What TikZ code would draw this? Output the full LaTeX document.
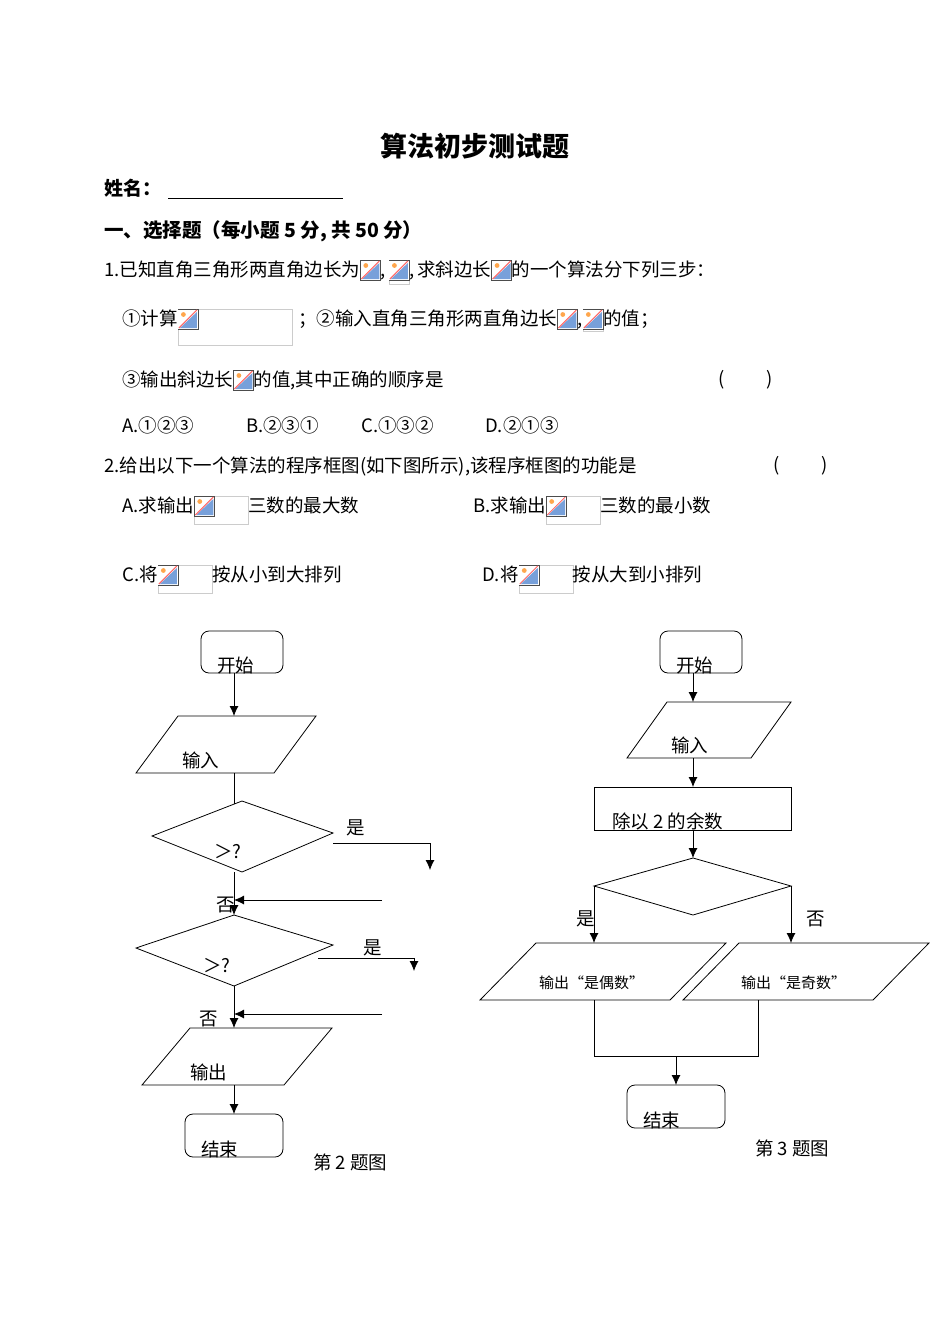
\documentclass[tikz,border=0pt]{standalone}
\usepackage{fontspec}
\setmainfont{Noto Sans CJK SC}
\newcommand\ico[2][0]{\tikz[baseline=4pt,x=1pt,y=1pt]{\draw[black!20](0,-#2) rectangle ({20+#1},20);\draw[black!70](0,0) rectangle (20,20);\fill[white](0.5,0.5) rectangle (19.5,19.5);\fill[cyan!50!blue!55](2,1)--(19,1)--(19,17)--cycle;\draw[red!60,line width=1pt](1,1)--(19,19);\fill[orange!70](5.5,14.5) circle(2.4);}}
\tikzset{txt/.style={anchor=west,inner sep=0pt,font=\fontsize{18.5}{20}\selectfont},
 ln/.style={line width=0.8pt},
 arr/.style={ln,-{Latex[length=10pt,width=9pt]}},
 box/.style={ln,rounded corners=8pt}}
\usetikzlibrary{arrows.meta}
\begin{document}
\begin{tikzpicture}[x=1pt,y=-1pt]
\useasboundingbox[fill=white] (0,0) rectangle (950,1342);
\node[font=\fontsize{27}{29}\selectfont\bfseries,inner sep=0pt] (title) at (475,146) {算法初步测试题};
\node[txt,font=\fontsize{19}{21}\selectfont\bfseries] (name) at (104,188) {姓名：};
\draw[ln] (168,198) -- (343,198);
\node[txt,font=\fontsize{19.5}{21}\selectfont\bfseries] (sec) at (104,231) {一、选择题（每小题 5 分, 共 50 分）};
\node[txt] (q1) at (104,272) {1.已知直角三角形两直角边长为\ico{0},\,\ico{4},\,求斜边长\ico{0}的一个算法分下列三步：};
\node[txt] (s1) at (122,327) {①计算\ico[94]{16}\hspace{6pt}；②输入直角三角形两直角边长\ico{0},\ico{2}的值；};
\node[txt] (s3) at (122,380) {③输出斜边长\ico{0}的值,其中正确的顺序是};
\node[txt] (p1) at (718,380) {(\hspace{42pt})};
\node[txt] (oA) at (122,425) {A.①②③};
\node[txt] (oB) at (246,425) {B.②③①};
\node[txt] (oC) at (361,425) {C.①③②};
\node[txt] (oD) at (485,425) {D.②①③};
\node[txt] (q2) at (104,466) {2.给出以下一个算法的程序框图(如下图所示),该程序框图的功能是};
\node[txt] (p2) at (773,466) {(\hspace{42pt})};
\node[txt] (a2) at (122,510) {A.求输出\ico[34]{8}三数的最大数};
\node[txt] (b2) at (473,510) {B.求输出\ico[34]{8}三数的最小数};
\node[txt] (c2) at (122,579) {C.将\ico[34]{8}按从小到大排列};
\node[txt] (d2) at (482,579) {D.将\ico[34]{8}按从大到小排列};
% flowchart 1
\draw[box] (201,631) rectangle (283,673);
\node[txt] (st1) at (217,665) {开始};
\coordinate (st1b) at (234,673);
\draw[ln] (178,716)--(316,716)--(274,773)--(136,773)--cycle;
\node[txt] (in1) at (182,760) {输入};
\coordinate (in1t) at (234,716); \coordinate (in1b) at (234,773);
\draw[arr] (st1b) -- (in1t);
\draw[ln] (152,836)--(242,801)--(333,833)--(242,872)--cycle;
\node[txt] (c1) at (214,852) {＞?};
\coordinate (d1t) at (234,804);
\draw[ln] (in1b) -- (d1t);
\node[txt] (y1) at (346,828) {是};
\coordinate (y1a) at (333,843); \coordinate (y1b) at (430,843); \coordinate (y1c) at (430,870);
\draw[arr] (y1a) -- (y1b) -- (y1c);
\coordinate (d1b) at (234,872); \coordinate (d2t) at (234,915);
\draw[arr] (d1b) -- (d2t);
\coordinate (r1) at (382,900); \coordinate (r1e) at (234,900);
\draw[arr] (r1) -- (r1e);
\node[txt] (n1) at (216,905) {否};
\draw[ln] (136,948)--(234,915)--(333,945)--(234,986)--cycle;
\node[txt] (c2b) at (203,966) {＞?};
\node[txt] (y2) at (363,948) {是};
\coordinate (y2a) at (318,958); \coordinate (y2b) at (414,958); \coordinate (y2c) at (414,971);
\draw[arr] (y2a) -- (y2b) -- (y2c);
\coordinate (d2b) at (234,986); \coordinate (out1t) at (234,1028);
\draw[arr] (d2b) -- (out1t);
\coordinate (r2) at (382,1014); \coordinate (r2e) at (234,1014);
\draw[arr] (r2) -- (r2e);
\node[txt] (n2) at (199,1019) {否};
\draw[ln] (190,1028)--(332,1028)--(284,1085)--(142,1085)--cycle;
\node[txt] (out1) at (190,1072) {输出};
\coordinate (out1b) at (234,1085); \coordinate (end1t) at (234,1114);
\draw[arr] (out1b) -- (end1t);
\draw[box] (185,1114) rectangle (283,1157);
\node[txt] (end1) at (201,1149) {结束};
\node[txt] (cap2) at (313,1162) {第 2 题图};
% flowchart 2
\draw[box] (660,631) rectangle (742,673);
\node[txt] (st2) at (676,665) {开始};
\coordinate (st2b) at (693,673); \coordinate (in2t) at (693,702);
\draw[arr] (st2b) -- (in2t);
\draw[ln] (667,702)--(791,702)--(751,758)--(627,758)--cycle;
\node[txt] (in2) at (671,745) {输入};
\coordinate (in2b) at (693,758); \coordinate (rm) at (693,787);
\draw[arr] (in2b) -- (rm);
\draw[ln] (594,787) rectangle (791,830);
\node[txt] (rem) at (612,821) {除以 2 的余数};
\coordinate (rmb) at (693,830); \coordinate (d3t) at (693,858);
\draw[arr] (rmb) -- (d3t);
\draw[ln] (693,858)--(791,886)--(693,915)--(594,886)--cycle;
\coordinate (d3l) at (594,886); \coordinate (d3r) at (791,886);
\coordinate (evt) at (594,943); \coordinate (odt) at (791,943);
\draw[arr] (d3l) -- (evt);
\draw[arr] (d3r) -- (odt);
\node[txt] (yes3) at (576,919) {是};
\node[txt] (no3) at (806,919) {否};
\draw[ln] (536,943)--(726,943)--(670,1000)--(480,1000)--cycle;
\draw[ln] (739,943)--(929,943)--(873,1000)--(683,1000)--cycle;
\node[txt,font=\fontsize{15}{17}\selectfont] (ev) at (539,983) {输出“是偶数”};
\node[txt,font=\fontsize{15}{17}\selectfont] (od) at (741,983) {输出“是奇数”};
\coordinate (evb) at (594,1000); \coordinate (odb) at (758,1000);
\coordinate (m) at (676,1056); \coordinate (end2t) at (676,1085);
\draw[ln] (evb) -- (594,1056) -- (758,1056) -- (odb);
\draw[arr] (m) -- (end2t);
\draw[box] (627,1085) rectangle (725,1128);
\node[txt] (end2) at (643,1120) {结束};
\node[txt] (cap3) at (755,1148) {第 3 题图};
\end{tikzpicture}
\end{document}
